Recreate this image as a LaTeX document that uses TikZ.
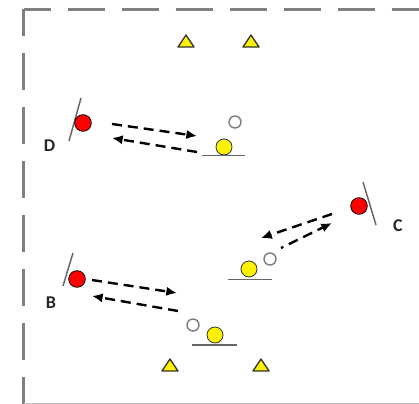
\documentclass[tikz,border=0pt]{standalone}
\usepackage{fontspec}
\setsansfont{Carlito}
\usepackage{tikz}
\usetikzlibrary{arrows.meta}

\begin{document}
\begin{tikzpicture}[x=0.75pt, y=-0.75pt,
        jugador/.style={circle, draw=black, line width=0.6pt, fill=red, inner sep=0pt, minimum size=12.5pt},
        balon/.style={circle, draw=black!80, line width=0.6pt, fill=yellow, inner sep=0pt, minimum size=12pt},
        marca/.style={circle, draw=gray, line width=1.1pt, fill=white, inner sep=0pt, minimum size=9pt},
        etiq/.style={font=\sffamily\bfseries\fontsize{13.5}{15}\selectfont, text=black!85, inner sep=0pt},
        pase/.style={line width=1.8pt, dash pattern=on 7.5pt off 4.5pt, -{Latex[length=8pt,width=7pt]}},
        borde/.style={line width=2.25pt, gray, dash pattern=on 27.75pt off 12.75pt, dash phase=7.5pt},
        base/.style={line width=1.1pt, black!60},
        cono/.style={fill=yellow, draw=black!80, line width=1pt, line join=round}]

        \useasboundingbox (0,0) rectangle (419,404);

        % campo
        \draw[borde] (24,9) -- (24,404);
        \draw[borde] (24,9) -- (419,9);
        \draw[gray!50, line width=0.6pt] (24,403) -- (419,403);

        % conos
        \foreach \x/\y in {186/47, 251/47, 170/371, 261/371}
            \filldraw[cono] (\x-8,\y) -- (\x+8,\y) -- (\x,\y-12) -- cycle;

        % jugadores con su linea
        \draw[base] (81,98) -- (69,141);
        \draw[base] (363,182) -- (376,225);
        \draw[base] (73,253) -- (63,286);
        \node[jugador] (D) at (83,123) {};
        \node[jugador] (C) at (359,206) {};
        \node[jugador] (B) at (77,279) {};
        \node[etiq] (lD) at (49.5,145.5) {D};
        \node[etiq] (lC) at (398,226) {C};
        \node[etiq] (lB) at (51,303) {B};

        % balones, base y marca
        \draw[base] (202,155.7) -- (245,155.7);
        \draw[base] (228,279.5) -- (272,279.5);
        \draw[base] (192,345) -- (237,345);
        \node[balon] (bD) at (224,147) {};
        \node[balon] (bC) at (249,269) {};
        \node[balon] (bB) at (215,335) {};
        \node[marca] (mD) at (235,122) {};
        \node[marca] (mC) at (270,259) {};
        \node[marca] (mB) at (193,325) {};

        % pases
        \coordinate (d1) at (112,124);
        \coordinate (d2) at (197,136);
        \coordinate (d3) at (197,152);
        \coordinate (d4) at (112,138);
        \coordinate (c1) at (332,214);
        \coordinate (c2) at (261,238);
        \coordinate (c3) at (281,248);
        \coordinate (c4) at (332,223);
        \coordinate (b1) at (92,280);
        \coordinate (b2) at (177,293);
        \coordinate (b3) at (178,311);
        \coordinate (b4) at (92,296);
        \draw[pase] (d1) -- (d2);
        \draw[pase] (d3) -- (d4);
        \draw[pase] (c1) -- (c2);
        \draw[pase, dash phase=5.5pt] (c3) -- (c4);
        \draw[pase] (b1) -- (b2);
        \draw[pase] (b3) -- (b4);
    \end{tikzpicture}
\end{document}
